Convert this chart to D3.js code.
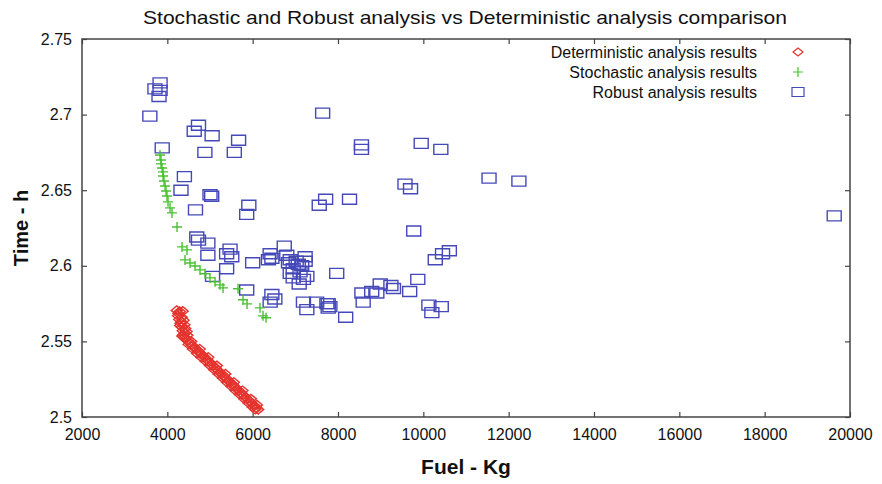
<!DOCTYPE html>
<html>
<head>
<meta charset="utf-8">
<script src="https://cdn.jsdelivr.net/npm/d3@7"></script>
<style>
  body { margin: 0; background: #fff; }
  svg { display: block; font-family: "Liberation Sans", Arial, sans-serif; }
</style>
</head>
<body>
<svg id="chart" width="882" height="484"></svg>
<script>
// [fuel (kg), time (h)]
const deterministic = [
  [4220, 2.5705], [4290, 2.5698], [4360, 2.5700], [4250, 2.5670], [4340, 2.5660],
  [4280, 2.5645], [4380, 2.5640], [4310, 2.5620], [4400, 2.5610], [4340, 2.5595],
  [4420, 2.5585], [4360, 2.5570], [4450, 2.5565], [4380, 2.5545], [4470, 2.5540],
  [4260, 2.5685], [4330, 2.5630], [4300, 2.5605], [4410, 2.5555], [4350, 2.5535],
  [4400, 2.5530], [4430, 2.5516], [4480, 2.5503], [4530, 2.5489], [4500, 2.5480],
  [4580, 2.5475], [4630, 2.5461], [4600, 2.5450], [4680, 2.5448], [4730, 2.5434],
  [4700, 2.5420], [4780, 2.5420], [4830, 2.5406], [4800, 2.5395], [4880, 2.5393],
  [4930, 2.5379], [4900, 2.5368], [4980, 2.5365], [5030, 2.5351], [5000, 2.5340],
  [5080, 2.5338], [5130, 2.5324], [5100, 2.5312], [5180, 2.5310], [5230, 2.5296],
  [5200, 2.5285], [5280, 2.5283], [5330, 2.5269], [5300, 2.5258], [5380, 2.5255],
  [5430, 2.5241], [5400, 2.5230], [5480, 2.5228], [5530, 2.5214], [5500, 2.5203],
  [5580, 2.5200], [5630, 2.5186], [5600, 2.5175], [5680, 2.5173], [5730, 2.5159],
  [5700, 2.5148], [5780, 2.5145], [5830, 2.5131], [5800, 2.5120], [5880, 2.5118],
  [5930, 2.5104], [5900, 2.5093], [5980, 2.5090], [6030, 2.5076], [6000, 2.5066],
  [6080, 2.5063], [6130, 2.5049], [6060, 2.5050],
  [4560, 2.5500], [4760, 2.5450], [4960, 2.5395], [5160, 2.5340], [5360, 2.5285],
  [5560, 2.5230], [5760, 2.5175], [5960, 2.5120], [6100, 2.5080]
]

const stochastic = [
  [3828, 2.6733], [3852, 2.6700], [3852, 2.6674], [3875, 2.6647], [3899, 2.6621],
  [3899, 2.6594], [3922, 2.6561], [3946, 2.6528], [3969, 2.6495], [3992, 2.6462],
  [4016, 2.6423], [4063, 2.6383], [4110, 2.6350], [4227, 2.6257], [4344, 2.6125],
  [4461, 2.6105], [4414, 2.6039], [4532, 2.6019], [4649, 2.5999], [4766, 2.5973],
  [4883, 2.5947], [5000, 2.5920], [5118, 2.5894], [5235, 2.5874], [5305, 2.5854],
  [5657, 2.5848], [5774, 2.5775], [5868, 2.5748], [6172, 2.5722], [6243, 2.5669],
  [6313, 2.5656]
]

const robust = [
  [3830, 2.721], [3710, 2.717], [3830, 2.716], [3805, 2.712], [3590, 2.699], [3880, 2.678],
  [4730, 2.693], [4630, 2.689], [5050, 2.686], [5670, 2.683], [4880, 2.675], [5570, 2.675],
  [7640, 2.701], [8550, 2.680], [8550, 2.677],
  [4400, 2.659], [4320, 2.650], [5000, 2.647], [5040, 2.646], [4660, 2.637], [5910, 2.640], [5860, 2.634],
  [7710, 2.644], [7560, 2.640], [8270, 2.644],
  [9950, 2.681], [10410, 2.677], [9570, 2.654], [9700, 2.651], [11540, 2.658], [12240, 2.656],
  [9775, 2.623], [19630, 2.633],
  [10610, 2.610], [10450, 2.608], [10280, 2.604], [9870, 2.591], [9680, 2.583], [8990, 2.588],
  [8910, 2.582], [8790, 2.583], [9240, 2.587], [9300, 2.585], [10130, 2.574], [10420, 2.573], [10200, 2.569],
  [7970, 2.595], [8560, 2.582], [8590, 2.576], [7770, 2.575], [7810, 2.573], [8180, 2.566],
  [6000, 2.602], [6740, 2.613], [6410, 2.608], [6450, 2.605], [6370, 2.604], [6800, 2.607],
  [6880, 2.604], [6840, 2.602], [7230, 2.606], [7230, 2.603], [7020, 2.603], [7070, 2.601],
  [6950, 2.598], [7150, 2.600], [7110, 2.596], [7270, 2.593], [7190, 2.591], [7090, 2.588],
  [6880, 2.595], [6950, 2.592],
  [5860, 2.584], [6450, 2.581], [6520, 2.578], [6410, 2.576], [7190, 2.576], [7270, 2.571],
  [7500, 2.576], [7740, 2.575], [7770, 2.572],
  [4690, 2.619], [4730, 2.617], [4950, 2.615], [4950, 2.607], [5470, 2.611], [5390, 2.608],
  [5510, 2.606], [5390, 2.598], [5060, 2.593]
]

const xTicks = [2000, 4000, 6000, 8000, 10000, 12000, 14000, 16000, 18000, 20000]
const yTicks = [2.5, 2.55, 2.6, 2.65, 2.7, 2.75]
const legendLabels = ['Deterministic analysis results', 'Stochastic analysis results', 'Robust analysis results']

const margin = { top: 39, right: 32, bottom: 67, left: 82 }
const width = 882 - margin.left - margin.right
const height = 484 - margin.top - margin.bottom

const red = '#e5332d'
const green = '#49c132'
const blue = '#4448b8'

const svg = d3.select('#chart')
const g = svg.append('g').attr('transform', `translate(${margin.left},${margin.top})`)

const x = d3.scaleLinear().domain([2000, 20000]).range([0, width])
const y = d3.scaleLinear().domain([2.5, 2.75]).range([height, 0])

// frame with inward ticks on all four sides
const tickStyle = sel => {
  sel.select('.domain').remove()
  sel.selectAll('line').attr('stroke', '#444').attr('stroke-width', 1.2)
  sel.selectAll('text').attr('fill', '#111').style('font-size', '16px')
}

g.append('g')
  .attr('transform', `translate(0,${height})`)
  .call(d3.axisBottom(x).tickValues(xTicks).tickSize(-5).tickPadding(12).tickFormat(d3.format('d')))
  .call(tickStyle)

g.append('g')
  .call(d3.axisTop(x).tickValues(xTicks).tickSize(-5).tickFormat(''))
  .call(tickStyle)

g.append('g')
  .call(d3.axisLeft(y).tickValues(yTicks).tickSize(-5).tickPadding(10).tickFormat(d => d3.format('')(+d.toFixed(2))))
  .call(tickStyle)

g.append('g')
  .attr('transform', `translate(${width},0)`)
  .call(d3.axisRight(y).tickValues(yTicks).tickSize(-5).tickFormat(''))
  .call(tickStyle)

g.append('rect')
  .attr('width', width)
  .attr('height', height)
  .attr('fill', 'none')
  .attr('stroke', '#444')
  .attr('stroke-width', 1.5)

const diamond = 'M0,-4.5L5.5,0L0,4.5L-5.5,0Z'
const plus = 'M-5,0H5M0,-5V5'
const box = 'M-7,-5H7V5H-7Z'

const drawSeries = (data, path, color, sw) => {
  g.append('g')
    .selectAll('path')
    .data(data)
    .enter()
    .append('path')
    .attr('transform', d => `translate(${x(d[0])},${y(d[1])})`)
    .attr('d', path)
    .attr('fill', 'none')
    .attr('stroke', color)
    .attr('stroke-width', sw)
}

drawSeries(robust, box, blue, 1.4)
drawSeries(stochastic, plus, green, 1.4)
drawSeries(deterministic, diamond, red, 1.4)

// legend
const legend = g.append('g')
const legendMarks = [
  { path: 'M0,-4L5,0L0,4L-5,0Z', color: red },
  { path: plus, color: green },
  { path: 'M-6,-4.5H6V4.5H-6Z', color: blue }
]
legendLabels.forEach((label, i) => {
  const ly = 13 + i * 20
  legend.append('text')
    .attr('x', 675)
    .attr('y', ly)
    .attr('dy', '0.35em')
    .attr('text-anchor', 'end')
    .style('font-size', '16px')
    .attr('fill', '#111')
    .text(label)
  legend.append('path')
    .attr('transform', `translate(716,${ly})`)
    .attr('d', legendMarks[i].path)
    .attr('fill', 'none')
    .attr('stroke', legendMarks[i].color)
    .attr('stroke-width', 1.2)
})

// titles
svg.append('text')
  .attr('x', 465)
  .attr('y', 24)
  .attr('text-anchor', 'middle')
  .attr('textLength', 644)
  .attr('lengthAdjust', 'spacingAndGlyphs')
  .style('font-size', '19px')
  .attr('fill', '#111')
  .text('Stochastic and Robust analysis vs Deterministic analysis comparison')

svg.append('text')
  .attr('x', margin.left + width / 2)
  .attr('y', 474)
  .attr('text-anchor', 'middle')
  .style('font-size', '21px')
  .style('font-weight', 'bold')
  .attr('fill', '#111')
  .text('Fuel - Kg')

svg.append('text')
  .attr('transform', `translate(28,${margin.top + height / 2}) rotate(-90)`)
  .attr('text-anchor', 'middle')
  .style('font-size', '20px')
  .style('font-weight', 'bold')
  .attr('fill', '#111')
  .text('Time - h')
</script>
</body>
</html>
